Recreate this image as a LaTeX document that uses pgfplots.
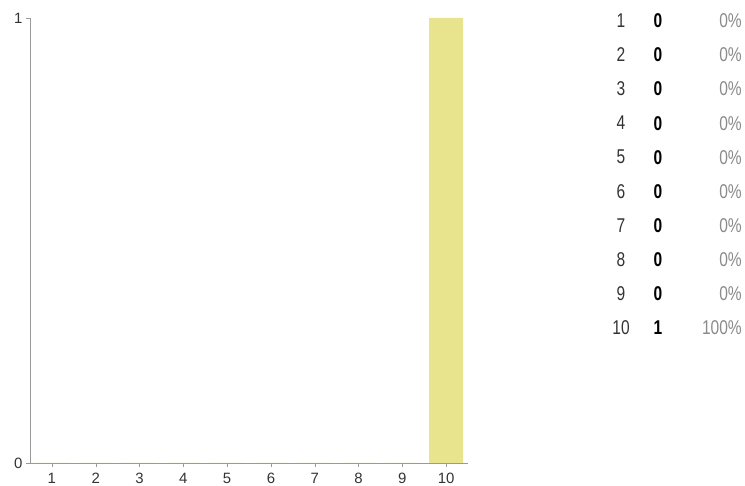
\documentclass[border=0pt]{standalone}
\usepackage{pgfplots}
\pgfplotsset{compat=1.18}
\usepackage{fontspec}
\setmainfont{Liberation Sans}
\newfontfamily\narrowfont[FakeStretch=0.78]{Liberation Sans}
\definecolor{barc}{HTML}{E8E48E}
\definecolor{axc}{HTML}{9A9A9A}
\definecolor{pct}{HTML}{8A8A8A}
\definecolor{lab}{HTML}{333333}
\begin{document}
\begin{tikzpicture}[x=1bp,y=1bp]
\path[use as bounding box] (0,0) rectangle (745,486);
\begin{axis}[
  at={(30bp,23bp)}, anchor=south west,
  scale only axis, width=438bp, height=445bp,
  xmin=0.5, xmax=10.5, ymin=0, ymax=1,
  axis x line*=bottom, axis y line*=left,
  axis line style={axc, -},
  xtick={1,...,10}, ytick={0,1},
  tick align=outside, major tick length=4bp,
  tick style={axc},
  /pgf/number format/assume math mode=true,
  tick label style={font=\fontsize{15}{17}\selectfont, text=lab},
  xticklabel style={yshift=-3bp},
]
\addplot[ybar, fill=barc, draw=none, bar width=34bp] coordinates {
(1,0) (2,0) (3,0) (4,0) (5,0) (6,0) (7,0) (8,0) (9,0) (10,1)};
\end{axis}
\foreach \lbl/\cnt/\p [count=\i from 0] in {1/0/0\%,2/0/0\%,3/0/0\%,4/0/0\%,5/0/0\%,6/0/0\%,7/0/0\%,8/0/0\%,9/0/0\%,10/1/100\%}{
  \node[font=\narrowfont\fontsize{20}{22}\selectfont, text=lab, anchor=center] at (621,{465-34.05*\i}) {\lbl};
  \node[font=\narrowfont\fontsize{20}{22}\selectfont\bfseries, anchor=center] at (658,{465-34.05*\i}) {\cnt};
  \node[font=\narrowfont\fontsize{20}{22}\selectfont, text=pct, anchor=east, inner sep=0pt] at (742,{465-34.05*\i}) {\p};
}
\end{tikzpicture}
\end{document}
